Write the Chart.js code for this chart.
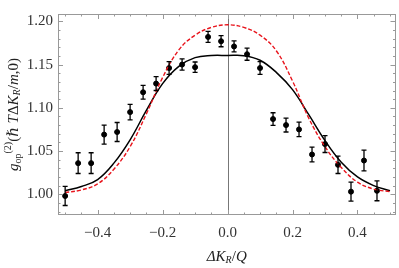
<!DOCTYPE html>
<html lang="en">
  <head>
    <meta charset="UTF-8" />
    <title>g2 vs dK</title>
    <script src="https://cdn.jsdelivr.net/npm/chart.js"></script>
    <style>
      body { margin: 0; background: #fff; }
      #wrap { width: 399px; height: 268px; }
    </style>
  </head>
  <body>
    <div id="wrap"><canvas id="g2Chart"></canvas></div>

    <script>
      // measured points
      var kx = [-0.50, -0.46, -0.42, -0.38, -0.34, -0.30, -0.26, -0.22, -0.18, -0.14, -0.10, -0.06, -0.02,
                0.02, 0.06, 0.10, 0.14, 0.18, 0.22, 0.26, 0.30, 0.34, 0.38, 0.42, 0.46];
      var g2 = [0.998, 1.036, 1.036, 1.069, 1.072, 1.095, 1.118, 1.128, 1.146, 1.150, 1.147, 1.182, 1.177,
                1.171, 1.162, 1.146, 1.087, 1.080, 1.075, 1.046, 1.058, 1.034, 1.003, 1.039, 1.004];
      var g2err = [0.011, 0.012, 0.012, 0.011, 0.011, 0.009, 0.008, 0.008, 0.0073, 0.0065, 0.006, 0.0064, 0.0064,
                   0.0064, 0.007, 0.0073, 0.0073, 0.008, 0.0084, 0.0086, 0.0097, 0.010, 0.011, 0.012, 0.0115];

      // theory curves
      var curveX = [-0.50, -0.45, -0.40, -0.35, -0.30, -0.25, -0.20, -0.15, -0.10, -0.05, 0.00,
                    0.05, 0.10, 0.15, 0.20, 0.25, 0.30, 0.35, 0.40, 0.45, 0.50];
      var blackCurve = [1.004, 1.009, 1.017, 1.036, 1.063, 1.097, 1.128, 1.148, 1.158, 1.1605, 1.1605,
                        1.1603, 1.155, 1.141, 1.121, 1.092, 1.062, 1.037, 1.020, 1.010, 1.004];
      var redCurve = [1.002, 1.005, 1.012, 1.029, 1.055, 1.093, 1.135, 1.167, 1.184, 1.193, 1.196,
                      1.193, 1.184, 1.166, 1.131, 1.088, 1.055, 1.031, 1.014, 1.006, 1.003];

      var xTicks = [-0.4, -0.2, 0.0, 0.2, 0.4];
      var yTicks = [1.00, 1.05, 1.10, 1.15, 1.20];

      function pairs(xs, ys) {
        return xs.map(function (x, i) { return { x: x, y: ys[i] }; });
      }

      var SERIF = "'Liberation Serif', 'DejaVu Serif', serif";

      // draw a line of text with sub/superscripts
      function drawRich(ctx, parts, cx, cy, rot) {
        ctx.save();
        ctx.translate(cx, cy);
        if (rot) ctx.rotate(rot);
        var total = 0;
        parts.forEach(function (p) {
          ctx.font = (p.i ? "italic " : "") + (p.s || 15) + "px " + SERIF;
          p.w = ctx.measureText(p.t).width;
          total += p.w;
        });
        var x = -total / 2;
        ctx.fillStyle = "#222";
        ctx.textBaseline = "middle";
        ctx.textAlign = "left";
        parts.forEach(function (p) {
          ctx.font = (p.i ? "italic " : "") + (p.s || 15) + "px " + SERIF;
          ctx.fillText(p.t, x, p.dy || 0);
          x += p.w;
        });
        ctx.restore();
      }

      // frame, inward ticks, zero line, error bars, axis titles
      var framePlugin = {
        id: "frame",
        beforeDatasetsDraw: function (chart) {
          var ctx = chart.ctx;
          var a = chart.chartArea;
          var xs = chart.scales.x;
          ctx.save();
          ctx.strokeStyle = "#777";
          ctx.lineWidth = 1;
          var x0 = Math.round(xs.getPixelForValue(0)) + 0.5;
          ctx.beginPath();
          ctx.moveTo(x0, a.top);
          ctx.lineTo(x0, a.bottom);
          ctx.stroke();
          ctx.restore();
        },
        afterDatasetsDraw: function (chart) {
          var ctx = chart.ctx;
          var a = chart.chartArea;
          var xs = chart.scales.x, ys = chart.scales.y;
          ctx.save();

          // error bars
          ctx.strokeStyle = "#000";
          ctx.lineWidth = 1.3;
          kx.forEach(function (k, i) {
            var px = xs.getPixelForValue(k);
            var top = ys.getPixelForValue(g2[i] + g2err[i]);
            var bot = ys.getPixelForValue(g2[i] - g2err[i]);
            ctx.beginPath();
            ctx.moveTo(px, top); ctx.lineTo(px, bot);
            ctx.moveTo(px - 2.5, top); ctx.lineTo(px + 2.5, top);
            ctx.moveTo(px - 2.5, bot); ctx.lineTo(px + 2.5, bot);
            ctx.stroke();
          });

          // frame
          ctx.strokeStyle = "#999";
          ctx.lineWidth = 1;
          ctx.strokeRect(Math.round(a.left) + 0.5, Math.round(a.top) + 0.5,
                         Math.round(a.right - a.left) - 1, Math.round(a.bottom - a.top) - 1);

          ctx.beginPath();
          var i, v, p, len;
          for (i = -12; i <= 12; i++) {
            v = i * 0.05;
            if (v < xs.min || v > xs.max) continue;
            p = Math.round(xs.getPixelForValue(v)) + 0.5;
            len = (i % 4 === 0) ? 5 : 2.5;
            ctx.moveTo(p, a.bottom); ctx.lineTo(p, a.bottom - len);
            ctx.moveTo(p, a.top); ctx.lineTo(p, a.top + len);
          }
          for (i = 95; i <= 125; i++) {
            v = i * 0.01;
            if (v < ys.min || v > ys.max) continue;
            p = Math.round(ys.getPixelForValue(v)) + 0.5;
            len = (i % 5 === 0) ? 5 : 2.5;
            ctx.moveTo(a.left, p); ctx.lineTo(a.left + len, p);
            ctx.moveTo(a.right, p); ctx.lineTo(a.right - len, p);
          }
          ctx.stroke();
          ctx.restore();

          // axis titles
          drawRich(ctx, [
            { t: "ΔK", i: true },
            { t: "R", i: true, s: 10, dy: 3 },
            { t: "/", i: false },
            { t: "Q", i: true }
          ], (a.left + a.right) / 2, 257, 0);

          drawRich(ctx, [
            { t: "g", i: true },
            { t: "op", s: 10, dy: 4 },
            { t: "(2)", s: 10, dy: -6 },
            { t: "(", i: false },
            { t: "ℏ", i: true },
            { t: " T", i: true },
            { t: "Δ", i: false },
            { t: "K", i: true },
            { t: "R", i: true, s: 10, dy: 3 },
            { t: "/", i: false },
            { t: "m", i: true },
            { t: ",0)", i: false }
          ], 14, (a.top + a.bottom) / 2, -Math.PI / 2);
        }
      };

      var ctx = document.getElementById("g2Chart").getContext("2d");
      var g2Chart = new Chart(ctx, {
        type: "scatter",
        data: {
          datasets: [
            {
              label: "red",
              type: "line",
              data: pairs(curveX, redCurve),
              borderColor: "#e8141c",
              borderWidth: 1.4,
              borderDash: [4, 2],
              pointRadius: 0,
              tension: 0.4,
              fill: false
            },
            {
              label: "black",
              type: "line",
              data: pairs(curveX, blackCurve),
              borderColor: "#000",
              borderWidth: 1.5,
              pointRadius: 0,
              tension: 0.4,
              fill: false
            },
            {
              label: "data",
              data: pairs(kx, g2),
              backgroundColor: "#000",
              borderColor: "#000",
              pointRadius: 2.5,
              pointHoverRadius: 2.5
            }
          ]
        },
        options: {
          responsive: true,
          maintainAspectRatio: false,
          animation: false,
          events: [],
          layout: { padding: { top: 4, right: 3, left: 0, bottom: 0 } },
          plugins: { legend: { display: false }, tooltip: { enabled: false } },
          scales: {
            x: {
              type: "linear",
              min: -0.522,
              max: 0.517,
              afterFit: function (s) { s.height = 53; },
              afterBuildTicks: function (s) {
                s.ticks = xTicks.map(function (v) { return { value: v }; });
              },
              grid: { display: false, drawTicks: false },
              border: { display: false },
              ticks: {
                padding: 9,
                color: "#333",
                font: { family: SERIF, size: 15 },
                callback: function (v) {
                  if (Math.abs(v) < 1e-9) return "0.0";
                  return (v < 0 ? "\u2212" : "") + Math.abs(v).toFixed(1);
                }
              }
            },
            y: {
              type: "linear",
              min: 0.976,
              max: 1.2085,
              afterFit: function (s) { s.width = 58; },
              afterBuildTicks: function (s) {
                s.ticks = yTicks.map(function (v) { return { value: v }; });
              },
              grid: { display: false, drawTicks: false },
              border: { display: false },
              ticks: {
                padding: 5,
                color: "#333",
                font: { family: SERIF, size: 15 },
                callback: function (v) { return v.toFixed(2); }
              }
            }
          }
        },
        plugins: [framePlugin]
      });
    </script>
  </body>
</html>
